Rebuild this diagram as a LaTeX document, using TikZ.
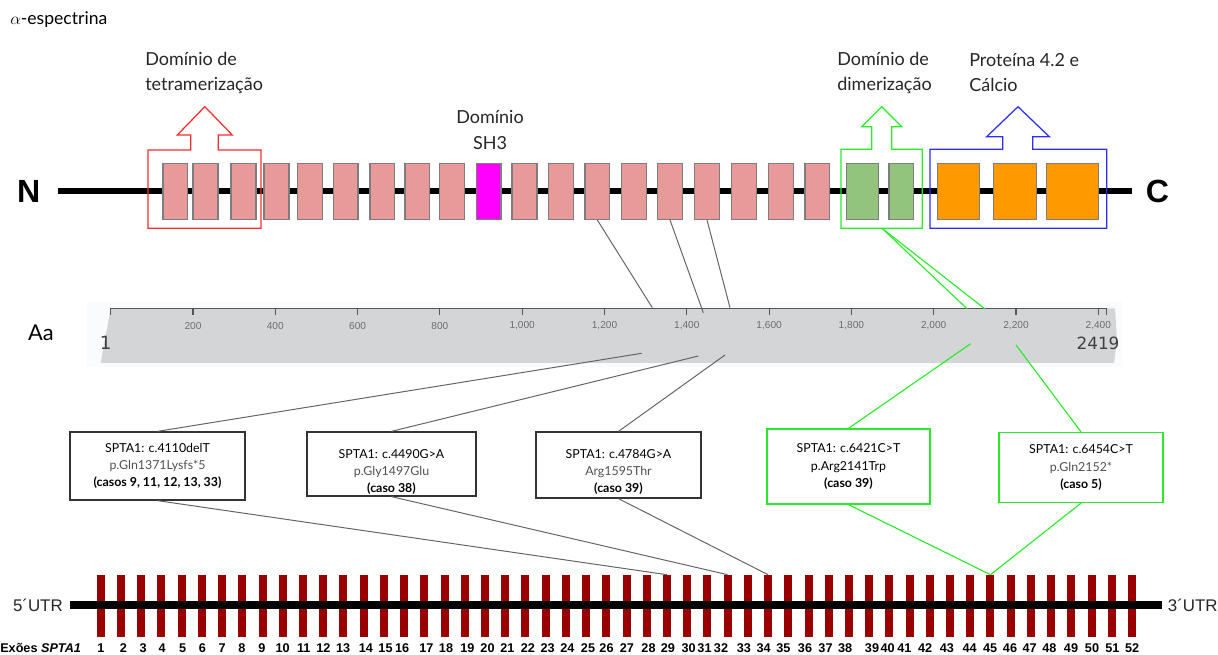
\documentclass[tikz,border=0pt]{standalone}
\usepackage{fontspec}
\setmainfont{Lato}
\newfontfamily\arialfont{Liberation Sans}
\newfontfamily\dejavufont{DejaVu Sans}
\definecolor{dompink}{RGB}{232,153,154}
\definecolor{boxgray}{RGB}{125,125,125}
\definecolor{sh3magenta}{RGB}{255,0,255}
\definecolor{dimgreen}{RGB}{147,196,125}
\definecolor{caorange}{RGB}{255,153,0}
\definecolor{tetred}{RGB}{250,45,45}
\definecolor{framegreen}{RGB}{40,235,40}
\definecolor{frameblue}{RGB}{45,45,250}
\definecolor{exonred}{RGB}{153,0,0}
\definecolor{rulerbg}{RGB}{249,251,252}
\definecolor{rulergray}{RGB}{212,213,215}
\definecolor{axisgray}{RGB}{85,85,85}
\definecolor{tickgray}{RGB}{110,110,110}
\definecolor{linkgray}{RGB}{100,100,100}
\definecolor{textgray}{RGB}{80,80,80}
\tikzstyle{motif} = [
    rectangle,
    minimum width=0.62cm,
    minimum height=1.395cm,
    inner sep=0pt,
    draw=boxgray,
    line width=0.9pt,
    fill=dompink
]
\tikzstyle{domframe} = [line width=0.9pt]
\tikzstyle{domtext} = [
    font=\fontsize{12.8}{17.8}\selectfont,
    inner sep=0pt,
    text=black!85
]
\tikzstyle{mutation} = [
    rectangle,
    align=center,
    inner sep=0pt,
    draw=black!80,
    line width=0.9pt,
    font=\fontsize{8.8}{12.2}\selectfont
]
\tikzstyle{exon} = [
    rectangle,
    minimum width=0.2cm,
    minimum height=1.55cm,
    inner sep=0pt,
    fill=exonred
]
\tikzstyle{ticklabel} = [font=\arialfont\fontsize{7.2}{8}\selectfont, text=tickgray, inner sep=0pt]
\tikzstyle{exonnum} = [font=\arialfont\bfseries\fontsize{9}{10}\selectfont, inner sep=0pt]
\tikzstyle{link} = [draw=linkgray, line width=0.7pt]
\tikzstyle{greenlink} = [draw=framegreen, line width=0.8pt]

\begin{document}
\begin{tikzpicture}[x=0.025cm, y=-0.025cm]
\useasboundingbox (0,0) rectangle (1218,655);

\node (title) [anchor=west, inner sep=0pt, font=\fontsize{12.5}{14}\selectfont] at (10,20) {$\alpha$-espectrina};

\node (tettext) [domtext, anchor=west, align=left] at (145,72.5) {Domínio de\\tetramerização};
\node (sh3text) [domtext, align=center] at (490,130) {Domínio\\SH3};
\node (dimtext) [domtext, anchor=west, align=left] at (837,73) {Domínio de\\dimerização};
\node (catext) [domtext, anchor=west, align=left] at (969,73) {Proteína 4.2 e\\Cálcio};

\node (nterm) [font=\arialfont\bfseries\fontsize{22.8}{24}\selectfont, inner sep=0pt] at (28.7,191.5) {N};
\node (cterm) [font=\arialfont\bfseries\fontsize{22.8}{24}\selectfont, inner sep=0pt] at (1157.5,191) {C};
\draw [line width=4.3pt] (58,191) -- (1132,191);

\foreach \n/\x in {1/175.3, 2/205.5, 3/243.5, 4/276.5, 5/309.8, 6/345.7, 7/382.3, 8/417.3, 9/452,
    11/524.5, 12/561, 13/597.3, 14/633.8, 15/670, 16/707, 17/744.2, 18/781.2, 19/817.3}
    \node (rep\n) [motif] at (\x,191.4) {};
\node (sh3) [motif, fill=sh3magenta] at (488.6,191.4) {};
\node (dim1) [motif, fill=dimgreen, minimum width=0.8cm] at (862.2,191.4) {};
\node (dim2) [motif, fill=dimgreen] at (901.3,191.4) {};
\node (ca1) [motif, fill=caorange, minimum width=1.05cm] at (958.3,191.4) {};
\node (ca2) [motif, fill=caorange, minimum width=1.08cm] at (1015,191.4) {};
\node (ca3) [motif, fill=caorange, minimum width=1.3cm] at (1072.7,191.4) {};

\draw [domframe, tetred] (148,150) -- (190.7,150) -- (190.7,135) -- (177.3,135) -- (204.8,106.7)
    -- (232.3,135) -- (218.3,135) -- (218.3,150) -- (261,150) -- (261,228.3) -- (148,228.3) -- cycle;
\draw [domframe, framegreen] (841,149.3) -- (871.7,149.3) -- (871.7,126.7) -- (861.7,126.7) -- (881.7,106.7)
    -- (901.7,126.7) -- (891.7,126.7) -- (891.7,149.3) -- (922.3,149.3) -- (922.3,228.3) -- (841,228.3) -- cycle;
\draw [domframe, frameblue] (930,149.3) -- (1002.7,149.3) -- (1002.7,136.7) -- (986.7,136.7) -- (1018,106.7)
    -- (1049.3,136.7) -- (1032.7,136.7) -- (1032.7,149.3) -- (1106.7,149.3) -- (1106.7,228.3) -- (930,228.3) -- cycle;
\coordinate (dimfoot) at (882,228.3);

\node (aa) [font=\fontsize{15.5}{17}\selectfont, inner sep=0pt] at (41,333) {Aa};
\fill [rulerbg] (86.7,301.7) rectangle (1122,366.7);
\fill [rulergray] (110.7,308.3) -- (1115,308.3) -- (1117,340) -- (1114,363) -- (100.7,363) -- cycle;
\draw [axisgray, line width=0.8pt] (110.7,308.3) -- (1106.7,308.3);
\foreach \v/\t in {0/, 200/200, 400/400, 600/600, 800/800, 1000/{1,000}, 1200/{1,200}, 1400/{1,400},
    1600/{1,600}, 1800/{1,800}, 2000/{2,000}, 2200/{2,200}, 2400/{2,400}, 2419/} {
    \draw [axisgray, line width=0.8pt] ({110.7+\v*0.4115},308.3) -- ({110.7+\v*0.4115},315);
    \node [ticklabel] at ({110.7+\v*0.4115},325.7) {\t};
}
\node (first) [font=\dejavufont\fontsize{13}{14}\selectfont, text=black!75, inner sep=0pt] at (105.7,343) {1};
\node (last) [font=\dejavufont\fontsize{12}{13}\selectfont, text=black!75, inner sep=0pt] at (1098,343) {2419};

\coordinate (top1) at (652.3,307.7);
\coordinate (top2) at (703.3,312.7);
\coordinate (top3) at (730,307.7);
\coordinate (top4) at (967.3,309);
\coordinate (top5) at (985,309);
\coordinate (bot1) at (641.7,353.3);
\coordinate (bot2) at (698.3,356);
\coordinate (bot3) at (725,355);
\coordinate (bot4) at (970.7,343.7);
\coordinate (bot5) at (1016,345);

\draw [link] (rep13.south) -- (top1);
\draw [link] (rep15.south) -- (top2);
\draw [link] (rep16.south) -- (top3);
\draw [greenlink] (dimfoot) -- (top4);
\draw [greenlink] (dimfoot) -- (top5);

\node (mut1) [mutation, minimum width=4.375cm, minimum height=1.7cm] at (157.5,466)
{SPTA1: c.4110delT\\\textcolor{textgray}{p.Gln1371Lysfs*5}\\\textbf{(casos 9, 11, 12, 13, 33)}};
\node (mut2) [mutation, minimum width=4.225cm, minimum height=1.6cm] at (391.5,464)
{\rule{0pt}{17.5pt}SPTA1: c.4490G>A\\\textcolor{textgray}{p.Gly1497Glu}\\\textbf{(caso 38)}};
\node (mut3) [mutation, minimum width=4.125cm, minimum height=1.65cm] at (618.5,465)
{\rule{0pt}{16.3pt}SPTA1: c.4784G>A\\\textcolor{textgray}{Arg1595Thr}\\\textbf{(caso 39)}};
\node (mut4) [mutation, draw=framegreen, minimum width=4.075cm, minimum height=1.875cm] at (848.5,466.5)
{SPTA1: c.6421C>T\\p.Arg2141Trp\\\textbf{(caso 39)}};
\node (mut5) [mutation, draw=framegreen, minimum width=4.1cm, minimum height=1.75cm] at (1081,467.5)
{SPTA1: c.6454C>T\\\textcolor{textgray}{p.Gln2152*}\\\textbf{(caso 5)}};

\draw [link] (mut1.north) -- (bot1);
\draw [link] (mut2.north) -- (bot2);
\draw [link] (mut3.north) -- (bot3);
\draw [greenlink] (mut4.north) -- (bot4);
\draw [greenlink] (mut5.north) -- (bot5);

\foreach \i in {1,...,52}
    \node (ex\i) [exon] at ({100.8+(\i-1)*20.22},606) {};
\draw [line width=5pt] (70.4,605) -- (1161.7,605);
\node (utr5) [anchor=east, font=\arialfont\fontsize{12}{14}\selectfont, text=black!85, inner sep=0pt] at (63,605) {5´UTR};
\node (utr3) [anchor=west, font=\arialfont\fontsize{12}{14}\selectfont, text=black!85, inner sep=0pt] at (1167.6,605) {3´UTR};

\draw [link] (mut1.south) -- (ex29.north);
\draw [link] (mut2.south) -- (ex32.north);
\draw [link] (mut3.south) -- (ex34.north);
\draw [greenlink] (mut4.south) -- (ex45.north);
\draw [greenlink] (mut5.south) -- (ex45.north);

\node (exlabel) [exonnum, anchor=west] at (0,648) {Exões \textit{SPTA1}};
\foreach \n/\x in {1/100.8, 2/123.4, 3/143.1, 4/162.1, 5/182.7, 6/202.5, 7/222.2, 8/242, 9/261.8,
    10/282.7, 11/303.7, 12/323.4, 13/343.2, 14/365.8, 15/385.5, 16/402.1, 17/426.3, 18/446,
    19/467.4, 20/487.5, 21/507.3, 22/527.9, 23/547.6, 24/567.4, 25/588, 26/606.5, 27/626.8,
    28/648.5, 29/667.8, 30/688.7, 31/704.5, 32/721, 33/743.9, 34/763.6, 35/783.3, 36/805,
    37/825.5, 38/845.2, 39/872, 40/887.7, 41/904.3, 42/925.2, 43/946.9, 44/969.7, 45/990.2,
    46/1010, 47/1029.6, 48/1049.3, 49/1071, 50/1092, 51/1112.4, 52/1132.1}
    \node [exonnum] at (\x,648) {\n};

\end{tikzpicture}
\end{document}
